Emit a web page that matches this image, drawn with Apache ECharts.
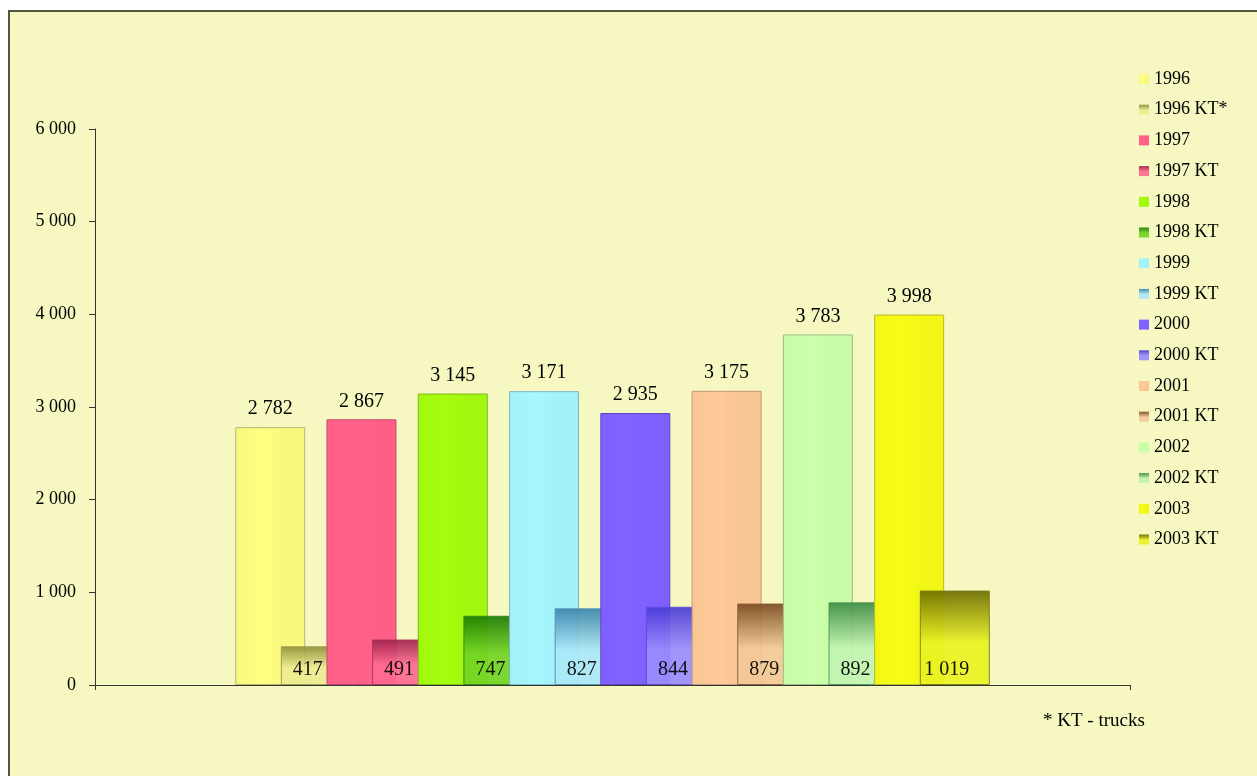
<!DOCTYPE html>
<html>
<head>
<meta charset="utf-8">
<script src="https://cdn.jsdelivr.net/npm/echarts@6.0.0/dist/echarts.min.js"></script>
<style>
html,body{margin:0;padding:0;background:#ffffff;}
#chart{width:1257px;height:776px;}
</style>
</head>
<body>
<div id="chart"></div>
<script>
// ---- data ----
const years = ['1996', '1997', '1998', '1999', '2000', '2001', '2002', '2003'];
const totals = [2782, 2867, 3145, 3171, 2935, 3175, 3783, 3998];
const trucks = [417, 491, 747, 827, 844, 879, 892, 1019];
const truckNames = ['1996 KT*', '1997 KT', '1998 KT', '1999 KT', '2000 KT', '2001 KT', '2002 KT', '2003 KT'];
const footnote = '* KT - trucks';

// ---- styles ----
const yearColors = ['#f8f87e', '#ff5f87', '#a2f70e', '#a2f0f8', '#7f60fe', '#f8c694', '#c8fca6', '#f1f616'];
const yearBorders = ['#b9b472', '#c8486a', '#7cb818', '#7cb8c0', '#5a48c0', '#c09a70', '#98c080', '#b8b830'];
const truckTop = ['#8e8e38', '#9c2049', '#1c7a02', '#3a82aa', '#4a3ad6', '#7a4a20', '#3a8a42', '#6c6c00'];
const truckBottom = ['#ecec92', '#ff6a92', '#72d424', '#aae8f8', '#9a8cff', '#f4c898', '#c2f4b2', '#eaf222'];

const fmt = v => String(v).replace(/\B(?=(\d{3})+(?!\d))/g, ' ');
const serif = '"Liberation Serif", "DejaVu Serif", serif';

const chart = echarts.init(document.getElementById('chart'), null, {renderer: 'canvas'});

const series = [];
const legendData = [];
years.forEach((y, i) => {
  legendData.push(y, truckNames[i]);
  series.push({
    name: y,
    type: 'bar',
    barWidth: 70,
    barGap: '-34.8%',
    data: [totals[i]],
    itemStyle: {
      color: new echarts.graphic.LinearGradient(0, 0, 1, 0, [
        {offset: 0, color: yearColors[i]},
        {offset: 0.4, color: echarts.color.lift(yearColors[i], -0.03)},
        {offset: 0.7, color: yearColors[i]},
        {offset: 1, color: yearColors[i]}
      ]),
      borderColor: yearBorders[i],
      borderWidth: 1
    },
    label: {
      show: true, position: 'top', distance: 8,
      formatter: p => fmt(p.value),
      fontFamily: serif, fontSize: 20, color: '#000'
    }
  });
  series.push({
    name: truckNames[i],
    type: 'bar',
    barWidth: 70,
    barGap: '-34.8%',
    data: [trucks[i]],
    itemStyle: {
      color: new echarts.graphic.LinearGradient(0, 0, 0, 1, [
        {offset: 0, color: truckTop[i]},
        {offset: 0.55, color: truckBottom[i]},
        {offset: 1, color: truckBottom[i]}
      ]),
      borderColor: echarts.color.lift(truckTop[i], 0.1),
      borderWidth: 1,
      opacity: 0.92
    },
    label: {
      show: true, position: 'insideBottom', distance: 5, offset: [-8, 0],
      formatter: p => fmt(p.value),
      fontFamily: serif, fontSize: 20, color: '#000'
    }
  });
});

const option = {
  backgroundColor: '#ffffff',
  animation: false,
  graphic: [
    {
      type: 'rect', z: -10, silent: true,
      shape: {x: 9, y: 11, width: 1300, height: 800},
      style: {fill: '#f7f7c1', stroke: '#55553a', lineWidth: 2}
    },
    {
      type: 'text', left: 1043, top: 712, z: 5,
      style: {text: footnote, font: '19px ' + serif, fill: '#000'}
    }
  ],
  legend: {
    orient: 'vertical',
    left: 1134, top: 65,
    itemWidth: 10, itemHeight: 10,
    itemGap: 12.7,
    icon: 'rect',
    data: legendData,
    textStyle: {fontFamily: serif, fontSize: 18, color: '#000', lineHeight: 18},
    itemStyle: {borderWidth: 0}
  },
  grid: {left: 95, right: 127, top: 129, bottom: 91},
  xAxis: {
    type: 'category', data: [''],
    boundaryGap: true,
    axisLine: {lineStyle: {color: '#333', width: 1}},
    axisTick: {show: true, length: 5, lineStyle: {color: '#333'}},
    axisLabel: {show: false}
  },
  yAxis: {
    type: 'value', min: 0, max: 6000, interval: 1000,
    axisLine: {show: true, lineStyle: {color: '#333', width: 1}},
    axisTick: {show: true, length: 6, lineStyle: {color: '#333'}},
    splitLine: {show: false},
    axisLabel: {
      formatter: v => fmt(v), margin: 19,
      fontFamily: serif, fontSize: 18, color: '#000'
    }
  },
  series: series
};
chart.setOption(option);
</script>
</body>
</html>
